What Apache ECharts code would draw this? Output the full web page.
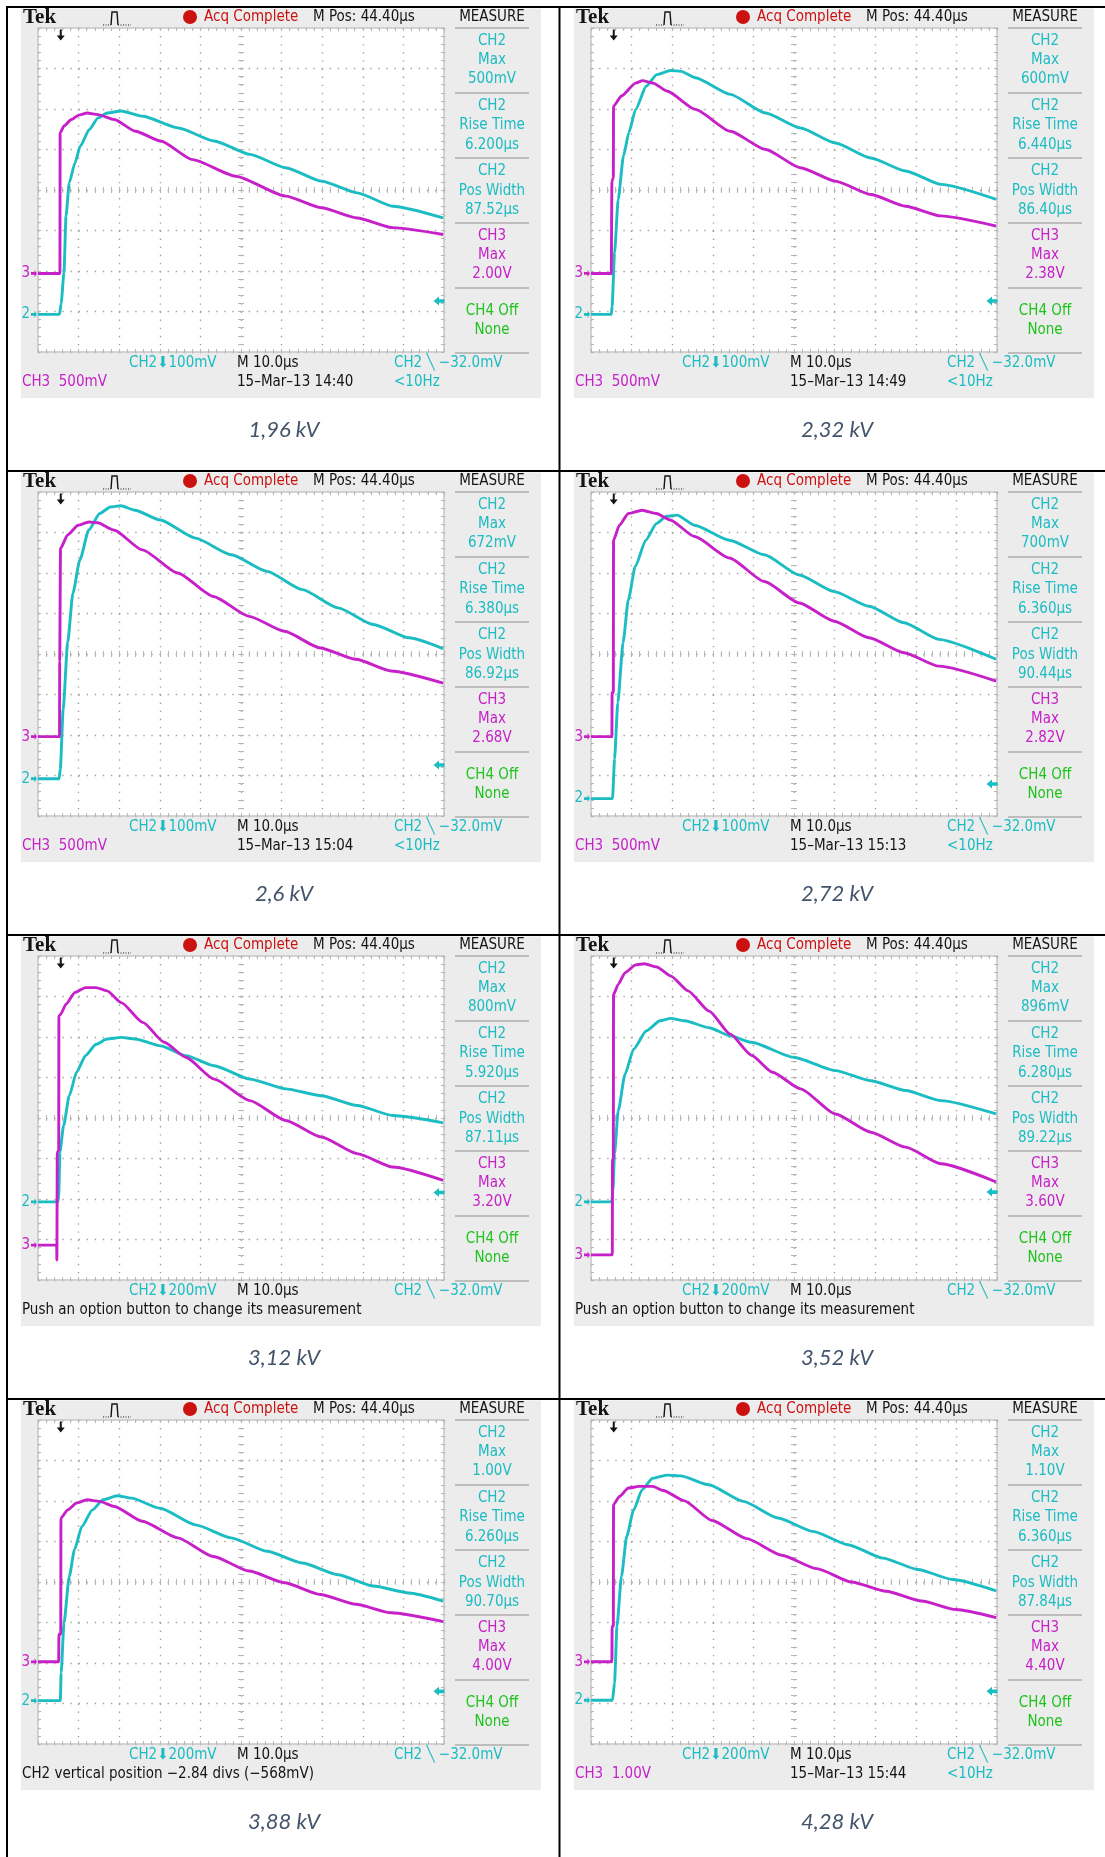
<!DOCTYPE html>
<html>
<head>
<meta charset="utf-8">
<title>Tek captures</title>
<script src="https://cdn.jsdelivr.net/npm/echarts@6.0.0/dist/echarts.min.js"></script>
<style>
  html, body { margin: 0; padding: 0; background: #fff; }
  #chart { width: 1105px; height: 1857px; }
</style>
</head>
<body>
<div id="chart"></div>
<script>
// screen units: x = divisions from left edge (0..10), y = divisions from bottom (0..8)
const captions = ['1,96 kV', '2,32 kV', '2,6 kV', '2,72 kV', '3,12 kV', '3,52 kV', '3,88 kV', '4,28 kV'];
const ch2Max = ['500mV', '600mV', '672mV', '700mV', '800mV', '896mV', '1.00V', '1.10V'];
const ch2Rise = ['6.200µs', '6.440µs', '6.380µs', '6.360µs', '5.920µs', '6.280µs', '6.260µs', '6.360µs'];
const ch2Width = ['87.52µs', '86.40µs', '86.92µs', '90.44µs', '87.11µs', '89.22µs', '90.70µs', '87.84µs'];
const ch3Max = ['2.00V', '2.38V', '2.68V', '2.82V', '3.20V', '3.60V', '4.00V', '4.40V'];
const ch2Scale = ['100mV', '100mV', '100mV', '100mV', '200mV', '200mV', '200mV', '200mV'];
const ch3Scale = ['500mV', '500mV', '500mV', '500mV', null, null, null, '1.00V'];
const stamps = ['15–Mar–13 14:40', '15–Mar–13 14:49', '15–Mar–13 15:04', '15–Mar–13 15:13', null, null, null, '15–Mar–13 15:44'];
const messages = [null, null, null, null,
  'Push an option button to change its measurement',
  'Push an option button to change its measurement',
  'CH2 vertical position −2.84 divs (−568mV)', null];
const ch2Ref = [0.93, 0.93, 0.92, 0.43, 1.93, 1.93, 1.07, 1.08];
const ch3Ref = [1.94, 1.94, 1.96, 1.96, 0.86, 0.62, 2.03, 2.03];
const trigLevel = [1.26, 1.26, 1.26, 0.79, 2.16, 2.17, 1.30, 1.30];
const trigPos = 0.56;

const ch2_196 = [[0,0.93],[0.53,0.93],[0.57,1.2],[0.64,1.96],[0.69,3.36],[0.77,4.18],[0.91,4.67],[1.04,5.08],[1.26,5.49],[1.48,5.78],[1.70,5.90],[2.05,5.95],[2.58,5.82],[3.46,5.53],[4.34,5.21],[5.22,4.88],[6.10,4.55],[6.98,4.22],[7.86,3.93],[8.74,3.60],[9.98,3.31]];
const ch3_196 = [[0,1.94],[0.52,1.94],[0.54,1.94],[0.545,5.41],[0.64,5.58],[0.82,5.74],[1.0,5.85],[1.21,5.90],[1.48,5.86],[1.88,5.74],[2.40,5.45],[3.02,5.21],[3.81,4.75],[4.87,4.34],[6.10,3.85],[6.98,3.56],[7.86,3.31],[8.74,3.07],[9.98,2.90]];
const ch2_232 = [[0,0.93],[0.50,0.93],[0.52,1.13],[0.58,2.45],[0.67,3.77],[0.80,4.84],[0.93,5.41],[1.10,5.99],[1.36,6.56],[1.62,6.85],[1.96,6.95],[2.22,6.93],[2.57,6.77],[3.43,6.36],[4.30,5.90],[5.16,5.53],[6.02,5.16],[6.89,4.79],[7.75,4.47],[8.62,4.14],[9.98,3.77]];
const ch3_232 = [[0,1.94],[0.50,1.94],[0.51,1.94],[0.515,4.22],[0.55,4.30],[0.555,6.07],[0.75,6.32],[1.10,6.64],[1.27,6.70],[1.53,6.64],[1.88,6.44],[2.57,5.99],[3.43,5.45],[4.30,5.00],[5.16,4.55],[6.02,4.22],[6.89,3.89],[7.75,3.60],[8.62,3.36],[9.98,3.11]];
const ch2_26 = [[0,0.92],[0.52,0.92],[0.55,1.16],[0.62,2.64],[0.73,4.28],[0.86,5.50],[1.03,6.32],[1.25,7.06],[1.52,7.47],[1.78,7.63],[2.04,7.66],[2.39,7.55],[3.01,7.31],[3.88,6.86],[4.76,6.45],[5.64,6.04],[6.51,5.59],[7.39,5.14],[8.26,4.73],[9.14,4.40],[9.98,4.13]];
const ch3_26 = [[0,1.96],[0.51,1.96],[0.53,1.96],[0.535,3.82],[0.55,3.82],[0.555,6.61],[0.73,6.94],[0.99,7.18],[1.25,7.26],[1.47,7.24],[1.87,7.06],[2.57,6.57],[3.44,6.00],[4.32,5.42],[5.20,4.93],[6.07,4.56],[6.95,4.15],[7.83,3.87],[8.70,3.58],[9.98,3.28]];
const ch2_272 = [[0,0.43],[0.53,0.43],[0.58,1.41],[0.66,2.80],[0.79,4.28],[0.92,5.34],[1.09,6.16],[1.35,6.81],[1.61,7.22],[1.86,7.40],[2.12,7.43],[2.55,7.18],[3.41,6.81],[4.27,6.45],[5.13,5.95],[5.99,5.54],[6.85,5.18],[7.71,4.77],[8.57,4.36],[9.98,3.87]];
const ch3_272 = [[0,1.96],[0.49,1.96],[0.515,1.96],[0.52,3.05],[0.55,3.05],[0.555,6.81],[0.70,7.18],[0.92,7.47],[1.26,7.55],[1.61,7.47],[1.95,7.31],[2.55,6.90],[3.41,6.37],[4.27,5.79],[5.13,5.26],[5.99,4.81],[6.85,4.40],[7.71,4.03],[8.57,3.70],[9.98,3.33]];
const ch2_312 = [[0,1.93],[0.49,1.93],[0.51,2.09],[0.54,3.16],[0.63,3.81],[0.77,4.55],[0.95,5.13],[1.17,5.54],[1.43,5.82],[1.70,5.95],[2.05,5.99],[2.40,5.95],[3.02,5.78],[3.64,5.54],[4.34,5.29],[5.22,4.96],[6.10,4.72],[6.98,4.55],[7.86,4.31],[8.74,4.06],[9.98,3.88]];
const ch3_312 = [[0,0.86],[0.46,0.86],[0.465,0.49],[0.475,3.16],[0.51,3.20],[0.515,6.52],[0.55,6.55],[0.69,6.81],[0.91,7.10],[1.17,7.22],[1.43,7.22],[1.70,7.14],[2.05,6.85],[2.58,6.36],[3.11,5.87],[3.64,5.50],[4.34,4.96],[5.22,4.43],[6.10,3.94],[6.98,3.53],[7.86,3.12],[8.74,2.79],[9.98,2.46]];
const ch2_352 = [[0,1.93],[0.51,1.93],[0.54,2.21],[0.58,3.12],[0.67,4.18],[0.84,5.09],[1.05,5.70],[1.36,6.15],[1.70,6.40],[1.96,6.46],[2.31,6.40],[2.91,6.23],[3.43,6.03],[3.95,5.87],[4.99,5.50],[6.02,5.17],[6.89,4.92],[7.75,4.68],[8.62,4.43],[9.98,4.10]];
const ch3_352 = [[0,0.62],[0.49,0.62],[0.525,0.62],[0.53,2.99],[0.55,2.99],[0.555,7.05],[0.67,7.30],[0.84,7.59],[1.10,7.78],[1.31,7.81],[1.62,7.73],[1.96,7.51],[2.39,7.14],[2.91,6.64],[3.43,6.07],[3.95,5.55],[4.47,5.13],[5.16,4.72],[6.02,4.10],[6.89,3.65],[7.75,3.28],[8.62,2.87],[9.98,2.42]];
const ch2_388 = [[0,1.07],[0.55,1.07],[0.57,1.76],[0.64,2.99],[0.77,4.14],[0.90,4.80],[1.08,5.37],[1.34,5.78],[1.60,6.03],[1.95,6.13],[2.30,6.07],[3.01,5.82],[3.88,5.41],[4.76,5.09],[5.64,4.76],[6.51,4.47],[7.39,4.18],[8.26,3.90],[9.14,3.73],[9.98,3.53]];
const ch3_388 = [[0,2.03],[0.51,2.03],[0.515,2.71],[0.56,2.71],[0.565,5.58],[0.73,5.78],[0.95,5.95],[1.21,6.03],[1.52,5.99],[1.87,5.87],[2.57,5.50],[3.44,5.09],[4.32,4.63],[5.20,4.27],[6.07,3.98],[6.95,3.69],[7.83,3.45],[8.70,3.24],[9.98,3.02]];
const ch2_428 = [[0,1.08],[0.53,1.08],[0.58,1.52],[0.64,2.91],[0.75,4.14],[0.88,5.13],[1.05,5.78],[1.26,6.28],[1.52,6.56],[1.86,6.64],[2.21,6.62],[2.90,6.40],[3.75,5.99],[4.61,5.58],[5.47,5.25],[6.33,4.92],[7.19,4.59],[8.05,4.31],[8.91,4.06],[9.98,3.78]];
const ch3_428 = [[0,2.03],[0.49,2.03],[0.515,2.03],[0.52,2.91],[0.55,2.91],[0.555,5.91],[0.70,6.11],[0.92,6.32],[1.18,6.36],[1.52,6.36],[1.78,6.26],[2.29,6.01],[2.98,5.52],[3.84,5.07],[4.70,4.66],[5.56,4.33],[6.42,4.00],[7.27,3.77],[8.14,3.53],[8.99,3.32],[9.98,3.12]];

const ch2Traces = [ch2_196, ch2_232, ch2_26, ch2_272, ch2_312, ch2_352, ch2_388, ch2_428];
const ch3Traces = [ch3_196, ch3_232, ch3_26, ch3_272, ch3_312, ch3_352, ch3_388, ch3_428];

const CYAN = '#1bbcc2', MAG = '#c620c8', GREEN = '#1ec21e', RED = '#cc1111', INK = '#141414';
const DOT = '#a2a2a2', TICK = '#b6b6b6', FRAME = '#c6c6c6';
const TEK = '"DejaVu Sans Condensed", "Liberation Sans Narrow", "DejaVu Sans", sans-serif';
const FONT = '15px ' + TEK;

const REF_ARROW = 'path://M0,3L6,3L6,0L10,5L6,10L6,7L0,7Z';
const LEFT_ARROW = 'path://M0,5L5,0L5,3L10,3L10,7L5,7L5,10Z';
const DOWN_ARROW = 'path://M3,0L5,0L5,6L8,6L4,11L0,6L3,6Z';

const grids = [], xAxes = [], yAxes = [], series = [], graphics = [];

function frameAxis(half, gi, position, split) {
  return {
    type: 'value', gridIndex: gi, position, min: -half, max: half, interval: 1,
    axisLine: { show: true, onZero: false, lineStyle: { color: FRAME, width: 1.5 } },
    axisTick: { show: true, inside: true, length: 3, lineStyle: { color: TICK } },
    minorTick: { show: true, splitNumber: 5, length: 3, lineStyle: { color: TICK } },
    axisLabel: { show: false },
    splitLine: { show: split, lineStyle: { color: DOT, width: 1.4, type: [1.4, 6.7] } },
  };
}
function centerAxis(half, gi, position, inside) {
  return {
    type: 'value', gridIndex: gi, position, min: -half, max: half, interval: 1,
    axisLine: { show: false, onZero: true },
    axisTick: { show: true, inside, length: 3, lineStyle: { color: TICK } },
    minorTick: { show: true, splitNumber: 5, length: 3, lineStyle: { color: TICK } },
    axisLabel: { show: false },
    splitLine: { show: false },
  };
}
function txt(x, y, s, fill, extra) {
  return { type: 'text', x, y, z: 20, silent: true,
    style: Object.assign({ text: s, fill, font: FONT, align: 'left', verticalAlign: 'middle' }, extra || {}) };
}
function hline(x1, x2, y, stroke, w) {
  return { type: 'line', z: 20, silent: true, shape: { x1, y1: y, x2, y2: y }, style: { stroke, lineWidth: w } };
}

// table rules
graphics.push({ type: 'line', z: 30, silent: true, shape: { x1: 7, y1: 6, x2: 7, y2: 1857 }, style: { stroke: '#000', lineWidth: 2 } });
graphics.push({ type: 'line', z: 30, silent: true, shape: { x1: 559.5, y1: 6, x2: 559.5, y2: 1857 }, style: { stroke: '#000', lineWidth: 2 } });

captions.forEach((cap, i) => {
  const col = i % 2, row = Math.floor(i / 2);
  const gx = col ? 574 : 21;
  const by = 7 + 464 * row;
  const X = v => gx + v;

  graphics.push(hline(6, 1105, by, '#000', 2));
  graphics.push({ type: 'rect', z: -5, silent: true, shape: { x: gx, y: by + 1.5, width: 520, height: 389.5 }, style: { fill: '#ececec' } });

  grids.push({ left: gx + 17, top: by + 21, width: 406, height: 324, show: true, backgroundColor: '#fff', borderWidth: 0 });
  xAxes.push(frameAxis(5, i, 'bottom', true), frameAxis(5, i, 'top', false),
             centerAxis(5, i, 'bottom', true), centerAxis(5, i, 'bottom', false));
  yAxes.push(frameAxis(4, i, 'left', true), frameAxis(4, i, 'right', false),
             centerAxis(4, i, 'left', true), centerAxis(4, i, 'left', false));

  const toScreen = pts => pts.map(p => [p[0] - 5, p[1] - 4]);
  const lbl = (t, c) => ({ show: true, formatter: t, position: 'left', distance: 1, color: c, fontSize: 15, fontFamily: TEK });

  series.push({
    type: 'line', xAxisIndex: 4 * i, yAxisIndex: 4 * i, data: toScreen(ch2Traces[i]),
    showSymbol: false, smooth: 0.2, smoothMonotone: 'x', silent: true, z: 3,
    lineStyle: { color: CYAN, width: 2.9 }, itemStyle: { color: CYAN },
    markPoint: { silent: true, data: [
      { coord: [-5, ch2Ref[i] - 4], symbol: REF_ARROW, symbolSize: [6, 7], symbolOffset: [-4, 0], itemStyle: { color: CYAN }, label: lbl('2', CYAN) },
      { coord: [5, trigLevel[i] - 4], symbol: LEFT_ARROW, symbolSize: [11, 9], symbolOffset: [-5, 0], itemStyle: { color: CYAN }, label: { show: false } },
    ] },
  });
  series.push({
    type: 'line', xAxisIndex: 4 * i, yAxisIndex: 4 * i, data: toScreen(ch3Traces[i]),
    showSymbol: false, smooth: 0.2, smoothMonotone: 'x', silent: true, z: 4,
    lineStyle: { color: MAG, width: 2.9 }, itemStyle: { color: MAG },
    markPoint: { silent: true, data: [
      { coord: [-5, ch3Ref[i] - 4], symbol: REF_ARROW, symbolSize: [6, 7], symbolOffset: [-4, 0], itemStyle: { color: MAG }, label: lbl('3', MAG) },
      { coord: [trigPos - 5, 4], symbol: DOWN_ARROW, symbolSize: [8, 11], symbolOffset: [0, 7], itemStyle: { color: INK }, label: { show: false } },
    ] },
  });

  // header strip
  graphics.push(txt(X(2), by + 11, 'Tek', INK, { font: 'bold 21px "Liberation Serif", "DejaVu Serif", serif' }));
  graphics.push({ type: 'polyline', z: 20, silent: true, shape: { points: [[X(82), by + 18], [X(90), by + 18]] }, style: { stroke: INK, lineWidth: 1.2, lineDash: [1, 1.5], fill: null } });
  graphics.push({ type: 'polyline', z: 20, silent: true, shape: { points: [[X(90), by + 18], [X(91), by + 5], [X(96), by + 5], [X(97), by + 18]] }, style: { stroke: INK, lineWidth: 1.4, fill: null } });
  graphics.push({ type: 'polyline', z: 20, silent: true, shape: { points: [[X(97), by + 18], [X(110), by + 18]] }, style: { stroke: INK, lineWidth: 1.2, lineDash: [1, 1.5], fill: null } });
  graphics.push({ type: 'circle', z: 20, silent: true, shape: { cx: X(169), cy: by + 10, r: 7 }, style: { fill: RED } });
  graphics.push(txt(X(183), by + 10, 'Acq Complete', RED));
  graphics.push(txt(X(292), by + 10, 'M Pos: 44.40µs', INK));
  graphics.push(txt(X(471), by + 10, 'MEASURE', INK, { align: 'center' }));

  // measurement column
  const blocks = [
    { ys: [34, 53, 72], lines: ['CH2', 'Max', ch2Max[i]], c: CYAN },
    { ys: [99, 118, 138], lines: ['CH2', 'Rise Time', ch2Rise[i]], c: CYAN },
    { ys: [164, 184, 203], lines: ['CH2', 'Pos Width', ch2Width[i]], c: CYAN },
    { ys: [229, 248, 267], lines: ['CH3', 'Max', ch3Max[i]], c: MAG },
    { ys: [304, 323], lines: ['CH4 Off', 'None'], c: GREEN },
  ];
  blocks.forEach(b => b.lines.forEach((s, k) => graphics.push(txt(X(471), by + b.ys[k], s, b.c, { align: 'center' }))));
  [21, 86, 151, 216, 281, 346].forEach(y => graphics.push(hline(X(434), X(508), by + y, '#bdbdbd', 2)));

  // footer
  graphics.push(txt(X(108), by + 356, 'CH2⬇' + ch2Scale[i], CYAN));
  graphics.push(txt(X(216), by + 356, 'M 10.0µs', INK));
  graphics.push(txt(X(373), by + 356, 'CH2 ╲ −32.0mV', CYAN));
  if (messages[i]) {
    graphics.push(txt(X(1), by + 375, messages[i], INK));
  } else {
    graphics.push(txt(X(1), by + 375, 'CH3  ' + ch3Scale[i], MAG));
    graphics.push(txt(X(216), by + 375, stamps[i], INK));
    graphics.push(txt(X(373), by + 375, '<10Hz', CYAN));
  }

  // caption under the capture
  graphics.push(txt(col ? 837 : 284, by + 423, cap, '#44546a', { align: 'center', font: 'italic 22px Lato, "Open Sans", sans-serif' }));
});

const chart = echarts.init(document.getElementById('chart'), null, { renderer: 'canvas' });
chart.setOption({
  animation: false,
  backgroundColor: '#fff',
  grid: grids,
  xAxis: xAxes,
  yAxis: yAxes,
  series,
  graphic: graphics,
});
</script>
</body>
</html>
